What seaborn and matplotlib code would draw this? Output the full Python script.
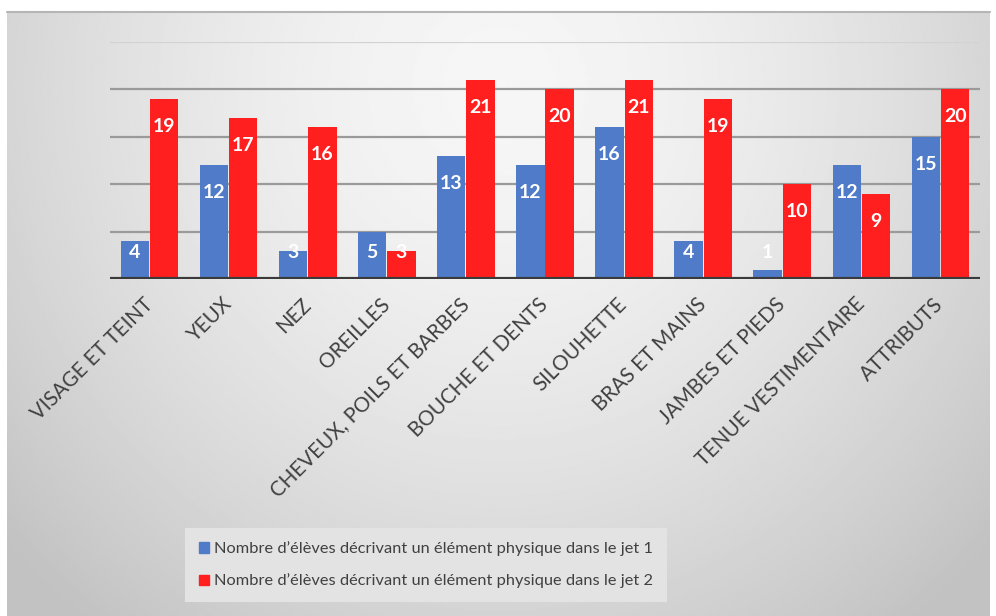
import numpy as np
import pandas as pd
import matplotlib.pyplot as plt
import seaborn as sns

# ============================================
# DATA
# ============================================

categories = [
    "VISAGE ET TEINT", "YEUX", "NEZ", "OREILLES", "CHEVEUX, POILS ET BARBES",
    "BOUCHE ET DENTS", "SILOUHETTE", "BRAS ET MAINS", "JAMBES ET PIEDS",
    "TENUE VESTIMENTAIRE", "ATTRIBUTS",
]
jet1 = [4, 12, 3, 5, 13, 12, 16, 4, 1, 12, 15]
jet2 = [19, 17, 16, 3, 21, 20, 21, 19, 10, 9, 20]

series_names = [
    "Nombre d\u2019élèves décrivant un élément physique dans le jet 1",
    "Nombre d\u2019élèves décrivant un élément physique dans le jet 2",
]

df = pd.DataFrame({
    "Catégorie": categories * 2,
    "Valeur": jet1 + jet2,
    "Série": [series_names[0]] * len(categories) + [series_names[1]] * len(categories),
})

BLUE = "#4f7bc8"
RED = "#ff1f1f"
TEXT = "#404040"

sns.set_style("white")
plt.rcParams["font.family"] = ["Lato", "DejaVu Sans"]

fig = plt.figure(figsize=(9.96, 6.16), dpi=100)
fig.patch.set_facecolor("white")

# -------- BACKGROUND (radial grey gradient) --------
bg = fig.add_axes([7 / 996, 0, 983 / 996, 604 / 616])
h, w = 300, 500
yy, xx = np.mgrid[0:h, 0:w]
r = np.sqrt(((xx - w * 0.5) / (w * 0.62)) ** 2 + ((yy - h * 0.12) / (h * 1.05)) ** 2)
shade = np.clip(0.965 - 0.18 * r ** 1.6, 0.76, 1.0)
bg.imshow(shade, cmap="gray", vmin=0, vmax=1, aspect="auto", interpolation="bilinear")
bg.set_axis_off()
fig.add_artist(plt.Line2D([7 / 996, 990 / 996], [604 / 616, 604 / 616],
                          transform=fig.transFigure, color="#b5b5b5", lw=1.5))

# -------- BARS --------
ax = fig.add_axes([110 / 996, (616 - 279) / 616, 870 / 996, (279 - 42) / 616])
ax.set_facecolor("none")
sns.barplot(data=df, x="Catégorie", y="Valeur", hue="Série",
            palette=[BLUE, RED], width=0.74, gap=0.03, saturation=1,
            edgecolor="none", ax=ax, zorder=3)

ax.set_ylim(0, 25)
ax.set_xlim(-0.5, len(categories) - 0.5)
ax.set_yticks([])
for v in [5, 10, 15, 20]:
    ax.axhline(v, color="#9a9a9a", lw=1.6, zorder=1)
ax.axhline(25, color="#d2d2d2", lw=1.6, zorder=1)
ax.axhline(0, color="#3a3a3a", lw=3, zorder=4)
for s in ax.spines.values():
    s.set_visible(False)

# value labels near the top of each bar
for cont in ax.containers:
    for bar in cont:
        val = bar.get_height()
        ypos = max(val - 2.9, 2.75)
        ax.text(bar.get_x() + bar.get_width() / 2, ypos, f"{int(val)}",
                ha="center", va="center", color="white", fontsize=14,
                fontweight="bold", zorder=5)

ax.set_xlabel("")
ax.set_ylabel("")
ax.tick_params(axis="x", length=0, pad=16)
ax.set_xticks(range(len(categories)))
ax.set_xticklabels(categories, rotation=45, ha="right", va="center",
                   rotation_mode="anchor", color=TEXT, fontsize=14.8)

# -------- LEGEND --------
ax.get_legend().remove()
handles = [plt.Rectangle((0, 0), 1, 1, color=BLUE), plt.Rectangle((0, 0), 1, 1, color=RED)]
leg = fig.legend(handles, series_names, loc="center", bbox_to_anchor=(426 / 996, 51 / 616),
                 frameon=True, fontsize=11.8, handlelength=0.6, handleheight=0.6,
                 handletextpad=0.3, labelspacing=1.05, borderpad=0.85, fancybox=False,
                 labelcolor=TEXT)
leg.get_frame().set_facecolor("#e3e3e3")
leg.get_frame().set_edgecolor("none")
leg.get_frame().set_alpha(1)

fig.savefig("out.png", dpi=100)
